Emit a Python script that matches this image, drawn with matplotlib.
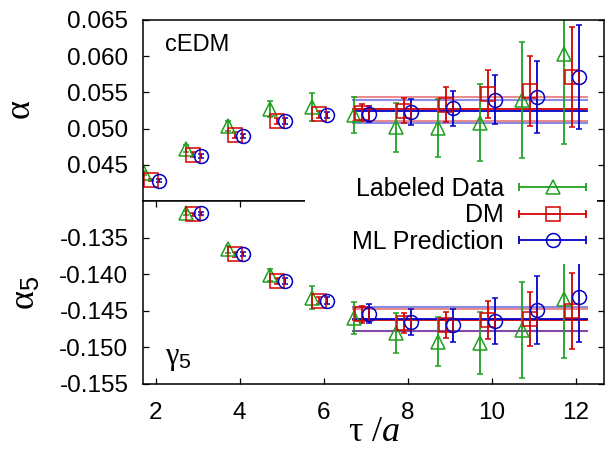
import numpy as np
import matplotlib
matplotlib.use("Agg")
import matplotlib.pyplot as plt
from matplotlib.lines import Line2D
from matplotlib.patches import Rectangle
from matplotlib.legend_handler import HandlerBase
from matplotlib.container import ErrorbarContainer

plt.rcParams['font.family'] = ['Liberation Sans', 'DejaVu Sans']
plt.rcParams['axes.unicode_minus'] = False
plt.rcParams['mathtext.fontset'] = 'custom'
plt.rcParams['mathtext.rm'] = 'Liberation Serif'
plt.rcParams['mathtext.it'] = 'Liberation Serif:italic'
plt.rcParams['mathtext.sf'] = 'Liberation Sans'

# cEDM (top panel), tau = 2..12
tau_top = np.arange(2, 13)
lab_top = [0.0439, 0.0472, 0.0504, 0.0527, 0.0530, 0.0519, 0.0502, 0.0501, 0.0508, 0.0540, 0.0603]
lab_top_err = [0.0003, 0.0005, 0.0007, 0.0011, 0.0019, 0.0025, 0.0034, 0.0040, 0.0053, 0.0080, 0.0124]
dm_top = [0.0429, 0.0464, 0.0491, 0.0511, 0.0520, 0.0522, 0.0525, 0.0533, 0.0548, 0.0552, 0.0571]
dm_top_err = [0.0002, 0.0003, 0.0004, 0.0004, 0.0005, 0.0012, 0.0017, 0.0024, 0.0033, 0.0048, 0.0069]
ml_top = [0.0428, 0.0462, 0.0490, 0.0511, 0.0519, 0.0520, 0.0523, 0.0528, 0.0540, 0.0544, 0.0571]
ml_top_err = [0.0002, 0.0003, 0.0003, 0.0004, 0.0004, 0.0011, 0.0018, 0.0024, 0.0034, 0.0050, 0.0072]

# gamma5 (bottom panel), tau = 3..12
tau_bot = np.arange(3, 13)
lab_bot = [-0.1316, -0.1366, -0.1401, -0.1432, -0.1460, -0.1480, -0.1492, -0.1494, -0.1476, -0.1434]
lab_bot_err = [0.0003, 0.0005, 0.0008, 0.0016, 0.0022, 0.0027, 0.0034, 0.0043, 0.0066, 0.0080]
dm_bot = [-0.1318, -0.1373, -0.1409, -0.1436, -0.1455, -0.1467, -0.1469, -0.1462, -0.1461, -0.1450]
dm_bot_err = [0.0002, 0.0003, 0.0004, 0.0005, 0.0011, 0.0014, 0.0018, 0.0026, 0.0037, 0.0052]
ml_bot = [-0.1317, -0.1372, -0.1409, -0.1436, -0.1454, -0.1465, -0.1470, -0.1464, -0.1449, -0.1431]
ml_bot_err = [0.0002, 0.0003, 0.0004, 0.0005, 0.0013, 0.0018, 0.0023, 0.0031, 0.0046, 0.0062]

# plateau fits: (center, half width)
fit_range = [6.7, 12.26]
dm_fit_top = (0.0527, 0.0016)
ml_fit_top = (0.0524, 0.0016)
dm_fit_bot = (-0.1462, 0.0015)
ml_fit_bot = (-0.1461, 0.0016)

shift = {'lab': -0.28, 'dm': -0.1, 'ml': 0.08}
green, red, blue = '#1fa01f', '#d40000', '#0000c8'


class HBarHandler(HandlerBase):
    def create_artists(self, legend, orig, xd, yd, w, h, fs, trans):
        ln = orig.lines[0]
        c = ln.get_markeredgecolor()
        y = h / 2 - yd
        x0, x1 = -xd, w - xd
        bar = Line2D([x0, x1], [y, y], color=c, lw=1.3)
        caps = Line2D([x0, x1], [y, y], ls='none', marker='|', ms=6, mew=1.3, color=c)
        mk = Line2D([(x0 + x1) / 2], [y], ls='none', marker=ln.get_marker(),
                    ms=ln.get_markersize(), mfc='none', mec=c, mew=ln.get_markeredgewidth())
        for a in (bar, caps, mk):
            a.set_transform(trans)
        return [bar, caps, mk]


fig = plt.figure(figsize=(6.05, 4.5), dpi=100)
ax1 = fig.add_axes([143 / 605, 1 - 201 / 450, 461 / 605, 181 / 450])
ax2 = fig.add_axes([143 / 605, 1 - 384 / 450, 461 / 605, 183 / 450], sharex=ax1)

eb = dict(ls='none', ms=10, mfc='none', mew=1.1, elinewidth=1.3, capsize=2.5, capthick=1.3)


def panel(ax, tau, lab, lab_e, dm, dm_e, ml, ml_e, dmfit, mlfit):
    for (c0, hw), col in ((dmfit, red), (mlfit, blue)):
        ax.plot(fit_range, [c0, c0], color=col, lw=1.3, zorder=1)
        ax.plot(fit_range, [c0 + hw, c0 + hw], color=col, lw=1.5, alpha=0.45, zorder=1)
        ax.plot(fit_range, [c0 - hw, c0 - hw], color=col, lw=1.5, alpha=0.45, zorder=1)
    h1 = ax.errorbar(tau + shift['lab'], lab, yerr=lab_e, marker='^', color=green, mec=green, label='Labeled Data', **eb)
    h2 = ax.errorbar(tau + shift['dm'], dm, yerr=dm_e, marker='s', color=red, mec=red, label='DM', **eb)
    h3 = ax.errorbar(tau + shift['ml'], ml, yerr=ml_e, marker='o', color=blue, mec=blue, label='ML Prediction', **eb)
    for s in ax.spines.values():
        s.set_linewidth(1.1)
    ax.tick_params(axis='y', direction='in', left=True, right=True, length=4.3, width=0.9,
                   labelsize=17.5, pad=10.5)
    return [h1, h2, h3]


handles = panel(ax1, tau_top, lab_top, lab_top_err, dm_top, dm_top_err, ml_top, ml_top_err,
                dm_fit_top, ml_fit_top)
panel(ax2, tau_bot, lab_bot, lab_bot_err, dm_bot, dm_bot_err, ml_bot, ml_bot_err,
      dm_fit_bot, ml_fit_bot)

ax1.set_xlim(1.7, 12.67)
ax1.set_ylim(0.040, 0.065)
ax1.set_yticks([0.045, 0.050, 0.055, 0.060, 0.065])
ax1.set_yticklabels(['%.3f' % v for v in [0.045, 0.050, 0.055, 0.060, 0.065]])
ax1.tick_params(axis='x', bottom=False, top=False, labelbottom=False)

ax2.set_ylim(-0.155, -0.130)
ax2.set_yticks([-0.155, -0.150, -0.145, -0.140, -0.135])
ax2.set_yticklabels(['%.3f' % v for v in [-0.155, -0.150, -0.145, -0.140, -0.135]])
ax2.set_xticks([2, 4, 6, 8, 10, 12])
ax2.tick_params(axis='x', direction='in', bottom=True, top=True, length=4.3, width=0.9,
                labelsize=17.5, pad=13)

ax1.text(0.048, 0.92, 'cEDM', transform=ax1.transAxes, fontsize=17, va='top', ha='left')
ax2.text(0.048, 0.142, r'$\mathrm{\gamma}_{\mathsf{5}}$', transform=ax2.transAxes,
         fontsize=22, va='center', ha='left')

fig.text(20 / 605, 1 - 110 / 450, r'$\mathrm{\alpha}$', rotation=90, ha='center', va='center', fontsize=26)
fig.text(25 / 605, 1 - 293 / 450, r'$\mathrm{\alpha}_{\mathsf{5}}$', rotation=90, ha='center', va='center', fontsize=26)
ax2.set_xlabel(r'$\mathrm{\tau}\ /a$', fontsize=26, labelpad=-7)

# opaque key hides the joint between the panels
fig.patches.append(Rectangle((305 / 605, 1 - 210 / 450), 292 / 605, 15 / 450, transform=fig.transFigure,
                             facecolor='white', edgecolor='none', zorder=4))
fig.legend(handles=handles, loc='upper right', bbox_to_anchor=(596 / 605, 1 - 167 / 450),
           borderaxespad=0, fontsize=18, frameon=True, framealpha=1, edgecolor='none',
           fancybox=False, markerfirst=False, handlelength=2.68, handletextpad=0.6,
           labelspacing=0.1, borderpad=0.4, handler_map={ErrorbarContainer: HBarHandler()})

fig.savefig('out.png', dpi=100)
